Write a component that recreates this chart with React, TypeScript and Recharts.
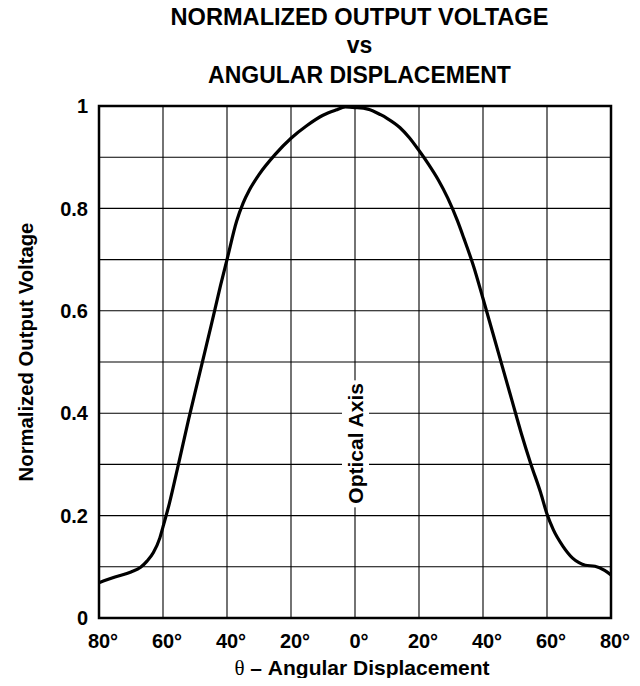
import React from 'react';
import {
  LineChart,
  Line,
  XAxis,
  YAxis,
  CartesianGrid,
  ReferenceArea,
  ReferenceLine,
  Customized,
} from 'recharts';

// ---- data ----
const angles = [
  -80, -75, -70, -67, -65, -63, -61, -60, -58, -55, -52, -50, -47, -45, -42, -40, -37, -35,
  -33, -30, -25, -20, -15, -10, -6, -3, 0, 4, 8, 10, 14, 17, 20, 23, 26, 29, 32, 34, 37, 40,
  43, 46, 49, 52, 55, 58, 60, 62, 65, 68, 70, 72, 75, 78, 80,
];
const voltages = [
  0.069, 0.08, 0.09, 0.099, 0.111, 0.128, 0.156, 0.178, 0.224, 0.305, 0.388, 0.44, 0.518, 0.57,
  0.65, 0.7, 0.775, 0.81, 0.836, 0.866, 0.905, 0.937, 0.962, 0.982, 0.992, 0.998, 0.997, 0.994,
  0.983, 0.976, 0.958, 0.938, 0.913, 0.886, 0.856, 0.82, 0.776, 0.742, 0.688, 0.624, 0.558,
  0.492, 0.426, 0.36, 0.3, 0.245, 0.203, 0.172, 0.14, 0.117, 0.108, 0.103, 0.101, 0.093, 0.084,
];
const xTicks = [-80, -60, -40, -20, 0, 20, 40, 60, 80];
const yGridTicks = [0, 0.1, 0.2, 0.3, 0.4, 0.5, 0.6, 0.7, 0.8, 0.9, 1];
const yLabelTicks = [0, 0.2, 0.4, 0.6, 0.8, 1];
const yTickLabels = ['0', '0.2', '0.4', '0.6', '0.8', '1'];
const titleLines = ['NORMALIZED OUTPUT VOLTAGE', 'vs', 'ANGULAR DISPLACEMENT'];
const xAxisSymbol = 'θ';
const xAxisTitle = ' – Angular Displacement';
const yAxisTitle = 'Normalized Output Voltage';
const opticalAxisLabel = 'Optical Axis';

const data = angles.map((a, i) => ({ angle: a, v: voltages[i] }));

const FONT = '"Liberation Sans", Arial, Helvetica, sans-serif';

const XTick = (props: any) => {
  const { x, y, payload } = props;
  return (
    <text
      x={x}
      y={y}
      dy="0.71em"
      dx="0.2em"
      textAnchor="middle"
      fontFamily={FONT}
      fontWeight="bold"
      fontSize={20}
      fill="#000"
    >
      {Math.abs(payload.value) + '°'}
    </text>
  );
};

const YTick = (props: any) => {
  const { x, y, payload } = props;
  const idx = yLabelTicks.findIndex((t) => Math.abs(t - payload.value) < 1e-6);
  if (idx < 0) return <g />;
  return (
    <text
      x={x}
      y={y}
      dy="0.36em"
      textAnchor="end"
      fontFamily={FONT}
      fontWeight="bold"
      fontSize={20}
      fill="#000"
    >
      {yTickLabels[idx]}
    </text>
  );
};

const XAxisLabel = (props: any) => {
  const vb = props.viewBox || {};
  const cx = vb.x + vb.width / 2 + 7;
  return (
    <text
      x={cx}
      y={vb.y + 57}
      textAnchor="middle"
      fontFamily={FONT}
      fontWeight="bold"
      fontSize={21}
      fill="#000"
    >
      <tspan fontFamily='"Liberation Serif", "DejaVu Serif", serif' fontWeight="normal">
        {xAxisSymbol}
      </tspan>
      <tspan>{xAxisTitle}</tspan>
    </text>
  );
};

const YAxisLabel = (props: any) => {
  const vb = props.viewBox || {};
  const bx = vb.x - 6;
  const cy = vb.y + vb.height / 2 - 10;
  return (
    <text
      x={bx}
      y={cy}
      transform={`rotate(-90 ${bx} ${cy})`}
      textAnchor="middle"
      fontFamily={FONT}
      fontWeight="bold"
      fontSize={20.3}
      fill="#000"
    >
      {yAxisTitle}
    </text>
  );
};

const OpticalLabel = (props: any) => {
  const vb = props.viewBox || {};
  const cx = vb.x;
  const bottom = vb.y + vb.height * (1 - 0.222);
  const len = 122;
  const cy = bottom - len / 2;
  return (
    <g>
      <rect x={cx - 13} y={bottom - len - 2} width={27} height={len + 5} fill="#fff" />
      <text
        x={cx}
        y={cy}
        dy="0.36em"
        transform={`rotate(-90 ${cx} ${cy})`}
        textAnchor="middle"
        fontFamily={FONT}
        fontWeight="bold"
        fontSize={21}
        fill="#000"
      >
        {opticalAxisLabel}
      </text>
    </g>
  );
};

const Title = () => {
  const cx = 359.5;
  const ys = [25, 53, 83];
  return (
    <g>
      {titleLines.map((t, i) => (
        <text
          key={i}
          x={cx}
          y={ys[i]}
          textAnchor="middle"
          fontFamily={FONT}
          fontWeight="bold"
          fontSize={i === 0 ? 23.6 : 23}
          fill="#000"
        >
          {t}
        </text>
      ))}
    </g>
  );
};

export default function App() {
  return (
    <div style={{ width: 640, height: 686, margin: -8, background: '#fff' }}>
      <LineChart
        width={640}
        height={686}
        data={data}
        margin={{ top: 106, right: 29, bottom: 8, left: 39 }}
      >
        <CartesianGrid stroke="#000" strokeWidth={1.1} />
        <XAxis
          dataKey="angle"
          type="number"
          domain={[-80, 80]}
          ticks={xTicks}
          interval={0}
          height={60}
          tickSize={0}
          tickMargin={16}
          axisLine={false}
          tickLine={false}
          tick={<XTick />}
          label={<XAxisLabel />}
        />
        <YAxis
          type="number"
          domain={[0, 1]}
          ticks={yGridTicks}
          interval={0}
          width={60}
          tickSize={0}
          tickMargin={11}
          axisLine={false}
          tickLine={false}
          tick={<YTick />}
          label={<YAxisLabel />}
        />
        <ReferenceLine x={0} stroke="none" strokeOpacity={0} label={<OpticalLabel />} />
        <ReferenceArea
          x1={-80}
          x2={80}
          y1={0}
          y2={1}
          fill="none"
          stroke="#000"
          strokeWidth={2.5}
          fillOpacity={0}
        />
        <Line
          type="monotone"
          dataKey="v"
          stroke="#000"
          strokeWidth={3.2}
          dot={false}
          isAnimationActive={false}
        />
        <Customized component={Title} />
      </LineChart>
    </div>
  );
}
